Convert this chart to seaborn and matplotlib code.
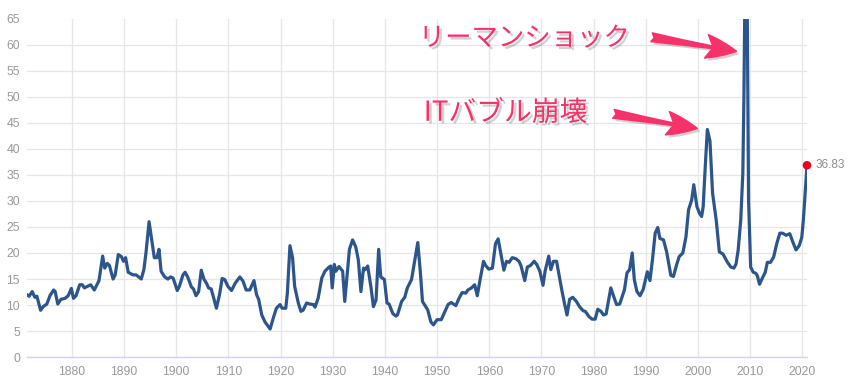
import matplotlib
matplotlib.use("Agg")
import matplotlib.pyplot as plt
import matplotlib.patheffects as pe
from matplotlib.patches import FancyArrowPatch
import seaborn as sns
import pandas as pd

# === Data (S&P 500 PE ratio) ===
years_1871_1920 = [
    1871.4, 1871.8, 1872.4, 1872.9, 1873.3, 1874.0, 1874.5, 1875.2, 1875.8, 1876.5,
    1876.8, 1877.3, 1877.9, 1878.7, 1879.3, 1879.9, 1880.3, 1880.8, 1881.5, 1882.0,
    1882.4, 1883.2, 1883.6, 1884.3, 1885.2, 1885.9, 1886.3, 1886.8, 1887.2, 1887.9,
    1888.3, 1888.9, 1889.5, 1889.9, 1890.3, 1890.8, 1891.7, 1892.3, 1892.7, 1893.3,
    1893.8, 1894.2, 1894.8, 1895.2, 1895.8, 1896.3, 1896.7, 1897.1, 1897.8, 1898.4,
    1898.9, 1899.4, 1900.2, 1900.6, 1901.3, 1901.7, 1902.2, 1902.9, 1903.3, 1903.8,
    1904.3, 1904.8, 1905.3, 1905.8, 1906.2, 1906.7, 1907.2, 1907.7, 1908.3, 1908.8,
    1909.3, 1909.9, 1910.6, 1911.3, 1912.2, 1912.8, 1913.4, 1914.1, 1914.9, 1915.4,
    1915.8, 1916.4, 1917.0, 1918.0, 1918.6, 1919.2, 1919.9,
]
pe_1871_1920 = [
    12.0, 11.7, 12.6, 11.5, 11.7, 9.0, 9.7, 10.2, 11.8, 12.9,
    12.6, 10.2, 11.1, 11.3, 11.8, 13.2, 11.3, 11.8, 13.9, 13.9,
    13.3, 13.7, 13.9, 12.9, 14.7, 19.4, 17.1, 18.0, 17.6, 15.0,
    15.8, 19.7, 19.3, 18.4, 19.1, 16.3, 15.8, 15.8, 15.5, 15.0,
    16.8, 20.0, 26.0, 23.2, 19.1, 19.1, 20.7, 16.5, 15.4, 15.0,
    15.4, 15.2, 12.8, 13.6, 15.8, 16.3, 15.4, 13.5, 13.1, 11.8,
    12.6, 16.7, 15.0, 14.2, 13.3, 13.1, 11.3, 9.4, 12.0, 15.1,
    14.9, 13.6, 12.8, 14.2, 15.4, 14.6, 12.9, 12.9, 14.7, 12.0,
    11.1, 8.1, 6.8, 5.4, 7.5, 9.4, 10.1,
]

years_1920_1970 = [
    1920.3, 1921.0, 1921.3, 1921.8, 1922.3, 1922.7, 1923.4, 1923.9, 1924.3, 1925.0,
    1925.6, 1926.3, 1926.6, 1927.2, 1927.9, 1928.5, 1929.3, 1929.6, 1929.9, 1930.3,
    1930.6, 1931.2, 1931.9, 1932.3, 1933.2, 1933.8, 1934.4, 1934.9, 1935.4, 1935.9,
    1936.2, 1936.7, 1937.3, 1937.8, 1938.3, 1938.8, 1939.2, 1939.9, 1940.4, 1940.8,
    1941.5, 1942.1, 1942.4, 1943.2, 1943.8, 1944.3, 1945.1, 1945.7, 1946.3, 1946.8,
    1947.2, 1948.2, 1948.8, 1949.3, 1950.0, 1950.8, 1951.3, 1952.1, 1952.7, 1953.6,
    1954.2, 1954.8, 1955.5, 1955.9, 1956.6, 1957.2, 1957.7, 1958.3, 1958.9, 1959.3,
    1959.9, 1960.6, 1961.2, 1961.7, 1962.2, 1962.8, 1963.3, 1963.8, 1964.4, 1965.1,
    1965.7, 1966.1, 1966.8, 1967.3, 1967.9, 1968.6, 1969.1, 1969.7,
]
pe_1920_1970 = [
    9.4, 9.4, 12.3, 21.4, 19.1, 13.6, 10.4, 8.8, 9.0, 10.4,
    10.2, 10.1, 9.6, 11.3, 15.2, 16.5, 17.3, 17.5, 13.3, 17.8,
    16.5, 17.4, 16.5, 10.7, 20.7, 22.5, 21.2, 18.7, 12.6, 17.1,
    16.8, 17.5, 13.6, 9.7, 11.0, 20.7, 15.4, 14.9, 10.4, 10.2,
    8.4, 7.9, 8.1, 10.7, 11.5, 13.3, 14.9, 18.4, 22.0, 16.2,
    10.7, 9.1, 6.8, 6.2, 7.2, 7.2, 8.3, 10.1, 10.5, 9.9,
    11.3, 12.4, 12.3, 12.9, 13.3, 13.9, 11.8, 15.2, 18.4, 17.6,
    16.9, 17.1, 21.8, 22.7, 20.0, 16.7, 18.4, 18.2, 19.1, 18.9,
    18.4, 17.5, 14.7, 17.3, 17.6, 18.4, 17.8, 16.5,
]

years_1970_2021 = [
    1970.3, 1970.7, 1971.4, 1971.8, 1972.3, 1972.9, 1973.3, 1973.9, 1974.4, 1974.9,
    1975.4, 1976.0, 1976.7, 1977.3, 1978.0, 1978.4, 1979.1, 1979.7, 1980.3, 1980.8,
    1981.4, 1981.9, 1982.4, 1983.3, 1983.8, 1984.4, 1985.0, 1985.9, 1986.4, 1986.9,
    1987.4, 1987.8, 1988.3, 1988.9, 1989.5, 1990.3, 1990.8, 1991.3, 1991.8, 1992.3,
    1992.7, 1993.4, 1994.0, 1994.8, 1995.3, 1995.9, 1996.4, 1997.1, 1997.7, 1998.2,
    1998.8, 1999.2, 1999.8, 2000.3, 2000.7, 2001.0, 2001.4, 2001.8, 2002.3, 2002.8,
    2003.5, 2004.1, 2004.8, 2005.6, 2006.3, 2006.9, 2007.3, 2007.7, 2008.2, 2008.6,
    2008.8, 2009.25, 2009.7, 2010.1, 2010.6, 2011.1, 2011.4, 2011.8, 2012.4, 2012.9,
    2013.3, 2013.9, 2014.5, 2015.1, 2015.7, 2016.2, 2016.9, 2017.6, 2018.3, 2018.8,
    2019.4, 2019.9, 2020.2, 2020.5, 2020.9,
]
pe_1970_2021 = [
    13.8, 16.5, 19.4, 16.8, 18.4, 18.4, 16.2, 12.9, 10.4, 8.1,
    11.1, 11.5, 10.7, 9.7, 8.9, 8.8, 7.8, 7.3, 7.3, 9.2,
    8.8, 8.1, 8.3, 13.3, 11.8, 10.1, 10.2, 12.9, 16.2, 16.8,
    20.0, 14.9, 12.6, 11.8, 13.0, 16.4, 14.7, 18.9, 23.8, 24.9,
    22.8, 22.5, 20.2, 15.7, 15.5, 17.7, 19.3, 20.0, 23.1, 28.3,
    30.2, 33.1, 28.9, 27.6, 27.0, 28.9, 36.6, 43.7, 41.5, 31.5,
    26.3, 20.2, 19.8, 18.3, 17.3, 17.1, 17.9, 20.5, 26.3, 35.3,
    49.4, 95.0, 30.1, 17.3, 16.3, 16.1, 15.6, 14.0, 15.3, 16.3,
    18.2, 18.2, 19.2, 21.8, 23.8, 23.8, 23.4, 23.7, 21.8, 20.6,
    21.4, 23.0, 26.3, 30.8, 36.83,
]

x_ticks = list(range(1880, 2021, 10))
y_ticks = list(range(0, 66, 5))

lehman_label = "リーマンショック"
dotcom_label = "ITバブル崩壊"


def main():
    df = pd.DataFrame({
        "year": years_1871_1920 + years_1920_1970 + years_1970_2021,
        "pe": pe_1871_1920 + pe_1920_1970 + pe_1970_2021,
    })
    last = df.iloc[-1]

    sns.set_style("white")
    plt.rcParams["font.family"] = ["Liberation Sans", "Noto Sans CJK JP", "DejaVu Sans"]

    fig = plt.figure(figsize=(8.53, 3.84), dpi=100)
    ax = fig.add_axes([27 / 853, 26.8 / 384, 780 / 853, 338.7 / 384])

    # === Line ===
    sns.lineplot(data=df, x="year", y="pe", ax=ax, color="#2c558c",
                 linewidth=2.3, estimator=None, sort=True)
    sns.scatterplot(x=[last["year"]], y=[last["pe"]], ax=ax, color="#e8001e",
                    s=38, edgecolor="none", zorder=5, clip_on=False)
    ax.annotate(f"{last['pe']:.2f}", (last["year"], last["pe"]),
                xytext=(6, 0), textcoords="offset points", va="center", ha="left",
                fontsize=8.5, color="#8c8c8c", annotation_clip=False)

    # === Axes ===
    ax.set_xlim(df["year"].iloc[0], last["year"])
    ax.set_ylim(0, 65)
    ax.set_xticks(x_ticks)
    ax.set_yticks(y_ticks)
    ax.set_xlabel("")
    ax.set_ylabel("")
    ax.grid(True, color="#e6e6e6", linewidth=0.9)
    ax.set_axisbelow(True)
    for side in ["left", "top", "right"]:
        ax.spines[side].set_visible(False)
    ax.spines["bottom"].set_color("#ccd6eb")
    ax.spines["bottom"].set_linewidth(1.0)
    ax.tick_params(axis="both", length=0, labelsize=8.8, labelcolor="#999999")
    ax.tick_params(axis="y", pad=5)
    ax.tick_params(axis="x", pad=6)

    # === Annotations ===
    pink = "#f8316b"
    shadow = [pe.withSimplePatchShadow(offset=(2, -2), shadow_rgbFace="black", alpha=0.18)]
    ax.text(1966.7, 61.2, lehman_label, ha="center", va="center", fontsize=19,
            color=pink, family=["Noto Sans CJK JP"], fontweight="normal", path_effects=shadow)
    ax.text(1963.1, 46.9, dotcom_label, ha="center", va="center", fontsize=20,
            color=pink, family=["Noto Sans CJK JP"], fontweight="normal", path_effects=shadow)

    style = "fancy,head_length=1.1,head_width=0.85,tail_width=0.32"
    for tail, tip in [((1991.1, 61.4), (2007.4, 58.7)), ((1983.8, 46.7), (1999.9, 43.9))]:
        arrow = FancyArrowPatch(tail, tip, arrowstyle=style, mutation_scale=20,
                                color=pink, shrinkA=0, shrinkB=0, zorder=6,
                                path_effects=shadow)
        ax.add_patch(arrow)

    fig.savefig("out.png", dpi=100)


if __name__ == "__main__":
    main()
